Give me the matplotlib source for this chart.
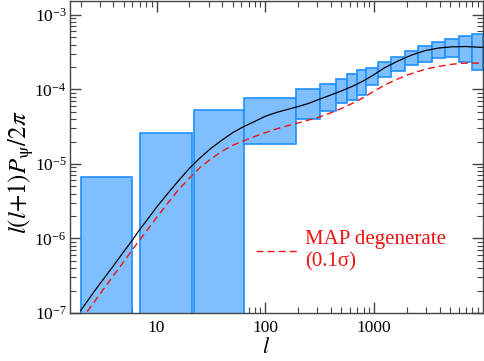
import matplotlib
matplotlib.use("Agg")
import matplotlib.pyplot as plt
import numpy as np
from matplotlib.lines import Line2D
from matplotlib.ticker import FixedLocator, FixedFormatter, LogLocator, NullFormatter

plt.rcParams['font.family'] = 'serif'
plt.rcParams['font.serif'] = ['Liberation Serif', 'DejaVu Serif']
plt.rcParams['mathtext.fontset'] = 'stix'

# Band-power bins (l ranges) and their lower/upper values
bin_lo = [2, 7, 22, 64, 192, 318, 443, 566, 699, 835, 1081, 1430, 1908, 2528, 3377, 4502, 5993, 8000]
bin_hi = [6, 21, 63, 191, 318, 443, 566, 699, 835, 1081, 1430, 1908, 2528, 3377, 4502, 5993, 8000, 10000]
band_low = [1e-9, 1e-9, 1e-9, 1.85e-5, 3.96e-5, 5.17e-5, 6.5e-5, 7.3e-5, 8.4e-5, 1.14e-4,
            1.45e-4, 1.77e-4, 2.10e-4, 2.34e-4, 2.61e-4, 2.74e-4, 2.32e-4, 1.82e-4]
band_high = [6.6e-6, 2.58e-5, 5.3e-5, 7.6e-5, 1.01e-4, 1.20e-4, 1.40e-4, 1.60e-4, 1.82e-4, 1.95e-4,
             2.30e-4, 2.74e-4, 3.26e-4, 3.80e-4, 4.30e-4, 4.77e-4, 5.18e-4, 5.50e-4]

# Fiducial model (solid black)
l_fid = [2, 2.5, 3, 4, 5, 6, 7, 8, 10, 12.6, 15.8, 20, 25, 31.6, 40, 50, 63, 80, 100, 126, 158,
         200, 247, 316, 375, 500, 630, 764, 950, 1243, 1652, 2196, 2922, 3900, 5194, 6924, 10000]
p_fid = [1.07e-7, 1.70e-7, 2.45e-7, 4.27e-7, 6.68e-7, 9.55e-7, 1.32e-6, 1.70e-6, 2.63e-6,
         3.98e-6, 5.89e-6, 8.71e-6, 1.20e-5, 1.62e-5, 2.09e-5, 2.63e-5, 3.16e-5, 3.72e-5,
         4.37e-5, 4.90e-5, 5.37e-5, 5.89e-5, 6.46e-5, 7.41e-5, 8.13e-5, 9.55e-5, 1.10e-4,
         1.26e-4, 1.51e-4, 1.95e-4, 2.40e-4, 2.88e-4, 3.31e-4, 3.59e-4, 3.73e-4, 3.76e-4, 3.66e-4]

# MAP degenerate model (red dashed)
l_map = [2, 2.5, 3, 4, 5, 6, 7, 8, 10, 12.6, 15.8, 20, 25, 31.6, 40, 50, 63, 80, 100, 126, 158,
         200, 251, 316, 398, 501, 631, 794, 1000, 1259, 1585, 1995, 2512, 3162, 3981, 5012,
         6310, 7943, 10000]
p_map = [7.94e-8, 1.23e-7, 1.78e-7, 3.16e-7, 4.90e-7, 7.08e-7, 9.55e-7, 1.23e-6, 1.91e-6,
         2.95e-6, 4.47e-6, 6.46e-6, 8.91e-6, 1.17e-5, 1.48e-5, 1.78e-5, 2.04e-5, 2.34e-5,
         2.63e-5, 2.95e-5, 3.24e-5, 3.55e-5, 3.89e-5, 4.27e-5, 4.85e-5, 5.55e-5, 6.50e-5,
         7.76e-5, 9.50e-5, 1.15e-4, 1.35e-4, 1.55e-4, 1.74e-4, 1.91e-4, 2.04e-4, 2.16e-4,
         2.24e-4, 2.26e-4, 2.24e-4]

x_ticks = [10, 100, 1000]
x_ticklabels = ['10', '100', '1000']

RED = '#ee1111'
W, H = 484, 361

fig = plt.figure(figsize=(4.84, 3.61), dpi=100)
ax = fig.add_axes([70/W, 48/H, 413/W, 360.3/H - 48/H])

lo = np.array(bin_lo, float)
hi = np.array(bin_hi, float)
bl = np.array(band_low)
bh = np.array(band_high)
ax.bar(lo, bh - bl, width=hi - lo, bottom=bl, align='edge',
       color='#80bfff', edgecolor='#1e90ff', linewidth=1.2, zorder=2)

ax.plot(l_fid, p_fid, color='black', lw=0.9, zorder=3)
red_line, = ax.plot(l_map, p_map, color=RED, lw=1.0, zorder=3)
red_line.set_dashes((5, 3))

ax.set_xscale('log')
ax.set_yscale('log')
ax.set_xlim(1.6, 1e4)
ax.set_ylim(1e-7, 1.55e-3)

ax.xaxis.set_major_locator(FixedLocator(x_ticks))
ax.xaxis.set_major_formatter(FixedFormatter(x_ticklabels))
ax.xaxis.set_minor_locator(LogLocator(base=10, subs=np.arange(2, 10)))
ax.xaxis.set_minor_formatter(NullFormatter())
ax.yaxis.set_major_locator(LogLocator(base=10, numticks=20))
ax.yaxis.set_minor_locator(LogLocator(base=10, subs=np.arange(2, 10), numticks=20))
ax.yaxis.set_minor_formatter(NullFormatter())

ax.tick_params(which='both', direction='in', top=True, right=True, colors='#444444',
               labelcolor='black', labelsize=12.5)
ax.tick_params(which='major', length=8, width=1.0)
ax.tick_params(which='minor', length=4, width=0.8)
ax.tick_params(axis='y', pad=2.5)
ax.tick_params(axis='x', pad=5)
for s in ax.spines.values():
    s.set_color('#444444')
    s.set_linewidth(1.0)

ax.set_xlabel(r'$l$', fontsize=16)
ax.xaxis.set_label_coords((266 - 70) / 413, -0.08)

# y label drawn as a free text, sized to its measured extent in the reference
ylab = fig.text(21 / W, 1 - 172 / H, r'$l(l{+}1)P_{\mathrm{\psi}}/2\pi$', rotation=90,
                ha='center', va='center', fontsize=13)
fig.canvas.draw()
r = fig.canvas.get_renderer()
bb = ylab.get_window_extent(r)
ylab.set_fontsize(13 * 124.0 / bb.height)

handle = Line2D([], [], color=RED, lw=1.0, dashes=(5, 3))
ax.legend([handle], ['MAP degenerate\n(0.1σ)'], loc='center left',
          bbox_to_anchor=((256 - 70) / 413, (313 - 251) / 312.3),
          frameon=False, borderpad=0, borderaxespad=0, handlelength=1.95,
          handletextpad=0.4, fontsize=15, labelcolor=RED)

fig.savefig('out.png', dpi=100)
